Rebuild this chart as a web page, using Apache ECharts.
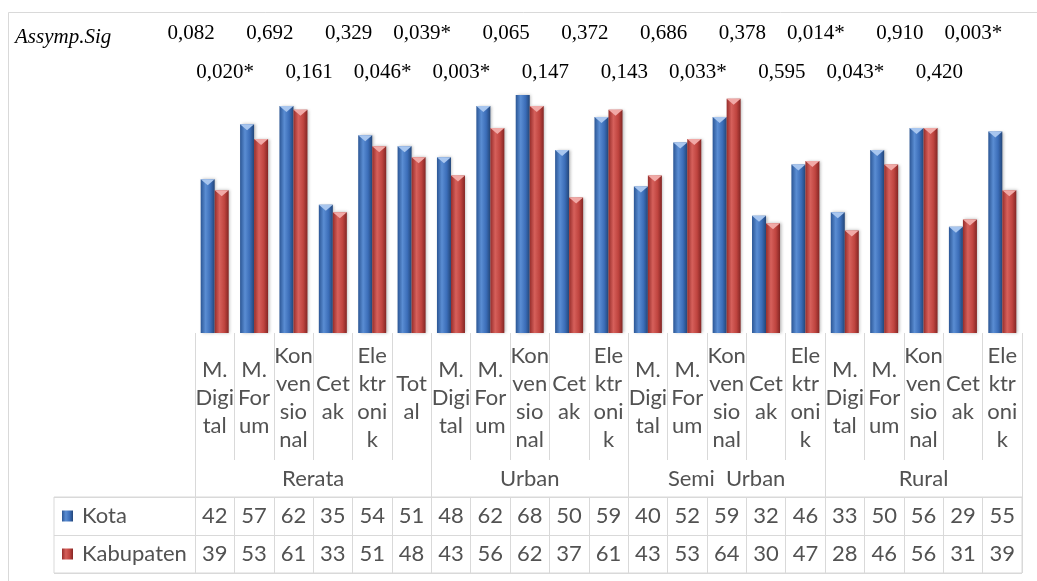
<!DOCTYPE html>
<html>
<head>
<meta charset="utf-8">
<script src="https://cdn.jsdelivr.net/npm/echarts@6/dist/echarts.min.js"></script>
<style>
  html, body { margin: 0; padding: 0; background: #ffffff; }
  #chart { width: 1037px; height: 581px; }
</style>
</head>
<body>
<div id="chart"></div>
<script>
// ---- data ----
const categories = [
  'M. Digital', 'M. Forum', 'Konvensional', 'Cetak', 'Elektronik', 'Total',
  'M. Digital', 'M. Forum', 'Konvensional', 'Cetak', 'Elektronik',
  'M. Digital', 'M. Forum', 'Konvensional', 'Cetak', 'Elektronik',
  'M. Digital', 'M. Forum', 'Konvensional', 'Cetak', 'Elektronik'
];
const groups = ['Rerata', 'Urban', 'Semi  Urban', 'Rural'];
const groupSizes = [6, 5, 5, 5];
const kota      = [42, 57, 62, 35, 54, 51, 48, 62, 68, 50, 59, 40, 52, 59, 32, 46, 33, 50, 56, 29, 55];
const kabupaten = [39, 53, 61, 33, 51, 48, 43, 56, 62, 37, 61, 43, 53, 64, 30, 47, 28, 46, 56, 31, 39];
const sig = [
  '0,082', '0,020*', '0,692', '0,161', '0,329', '0,046*', '0,039*', '0,003*',
  '0,065', '0,147', '0,372', '0,143', '0,686', '0,033*', '0,378', '0,595',
  '0,014*', '0,043*', '0,910', '0,420', '0,003*'
];
const seriesNames = ['Kota', 'Kabupaten'];
const sigTitle = 'Assymp.Sig';

// narrow-column wrapping of the category names
const wrapped = {
  'M. Digital': 'M.\nDigi\ntal',
  'M. Forum': 'M.\nFor\num',
  'Konvensional': 'Kon\nven\nsio\nnal',
  'Cetak': 'Cet\nak',
  'Elektronik': 'Ele\nktr\noni\nk',
  'Total': 'Tot\nal'
};

// ---- layout helpers ----
const W = 1037;
const PLOT_LEFT = 195, PLOT_RIGHT = 15, TABLE_LEFT = 54;
const BAR_W = 14;
const SANS = "Lato, 'Open Sans', sans-serif";
const SERIF = "'Liberation Serif', 'DejaVu Serif', serif";
const FS = 22;
const GRAY = '#525252';
const LINE = '#d9d9d9';

const nCat = categories.length;
const colW = (W - PLOT_LEFT - PLOT_RIGHT) / nCat;
const labelCols = (PLOT_LEFT - TABLE_LEFT) / colW;
const colBounds = Array.from({ length: nCat + 1 }, (_, i) => i);
const colCenters = Array.from({ length: nCat }, (_, i) => i + 0.5);
const groupBounds = [0];
groupSizes.forEach(s => groupBounds.push(groupBounds[groupBounds.length - 1] + s));
const groupCenters = groups.map((_, i) => (groupBounds[i] + groupBounds[i + 1]) / 2);

const blueFill = new echarts.graphic.LinearGradient(0, 0, 1, 0, [
  { offset: 0, color: '#2b5695' },
  { offset: 0.35, color: '#5a8dd3' },
  { offset: 0.7, color: '#3b6db8' },
  { offset: 1, color: '#234679' }
]);
const redFill = new echarts.graphic.LinearGradient(0, 0, 1, 0, [
  { offset: 0, color: '#962d2b' },
  { offset: 0.35, color: '#d6605b' },
  { offset: 0.7, color: '#bf443f' },
  { offset: 1, color: '#842624' }
]);

// bevel cap drawn on top of each bar
function capSeries(values, side, fill) {
  return {
    type: 'custom',
    xAxisIndex: 0,
    yAxisIndex: 0,
    clip: true,
    silent: true,
    z: 4,
    data: values.map((v, i) => [i, v]),
    renderItem: (params, api) => {
      const p = api.coord([api.value(0), api.value(1)]);
      const x0 = side < 0 ? p[0] - BAR_W : p[0];
      return {
        type: 'polygon',
        shape: { points: [[x0, p[1]], [x0 + BAR_W, p[1]], [x0 + BAR_W / 2, p[1] + 6]] },
        style: { fill: fill }
      };
    }
  };
}

function barSeries(name, values, fill) {
  return {
    name: name,
    type: 'bar',
    xAxisIndex: 0,
    yAxisIndex: 0,
    data: values,
    barWidth: BAR_W,
    barGap: '0%',
    itemStyle: {
      color: fill,
      shadowColor: 'rgba(0,0,0,0.28)',
      shadowBlur: 3,
      shadowOffsetX: 1.5,
      shadowOffsetY: 0
    },
    z: 3
  };
}

function sigAxis(parity, margin) {
  return {
    type: 'category',
    gridIndex: 0,
    position: 'top',
    data: categories,
    axisLine: { show: false, onZero: false },
    axisTick: { show: false },
    splitLine: { show: false },
    axisLabel: {
      interval: 0,
      margin: margin,
      align: 'right',
      verticalAlign: 'middle',
      fontFamily: SERIF,
      fontSize: 21,
      color: '#000000',
      formatter: (v, i) => (i % 2 === parity ? sig[i] : '')
    }
  };
}

function tableAxis(position, values) {
  return {
    type: 'value',
    gridIndex: 1,
    position: position,
    min: -labelCols,
    max: nCat,
    axisLine: { show: false, onZero: false },
    splitLine: { show: false },
    axisTick: {
      show: true,
      inside: true,
      length: 38,
      customValues: colBounds,
      lineStyle: { color: LINE }
    },
    axisLabel: {
      inside: true,
      margin: 19,
      verticalAlign: 'middle',
      customValues: colCenters,
      fontFamily: SANS,
      fontSize: FS,
      color: GRAY,
      formatter: v => String(values[Math.floor(v)])
    }
  };
}

const chart = echarts.init(document.getElementById('chart'));

chart.setOption({
  animation: false,
  backgroundColor: '#ffffff',
  textStyle: { fontFamily: SANS },
  title: {
    text: sigTitle,
    left: 15,
    top: 27,
    padding: 0,
    textStyle: { fontFamily: SERIF, fontStyle: 'italic', fontWeight: 'normal', fontSize: 21, color: '#000000' }
  },
  legend: {
    data: seriesNames,
    orient: 'vertical',
    left: 62,
    top: 505,
    padding: 0,
    itemWidth: 11,
    itemHeight: 11,
    itemGap: 16,
    icon: 'rect',
    selectedMode: false,
    textStyle: { fontFamily: SANS, fontSize: FS, color: GRAY, padding: [0, 0, 0, 4] }
  },
  graphic: [{
    type: 'rect',
    silent: true,
    z: -10,
    shape: { x: 8.5, y: 12.5, width: 1200, height: 800 },
    style: { fill: 'none', stroke: LINE, lineWidth: 1 }
  }],
  grid: [
    { left: PLOT_LEFT, right: PLOT_RIGHT, top: 95, bottom: 248, outerBoundsMode: 'none' },
    { left: TABLE_LEFT, right: PLOT_RIGHT, top: 497, bottom: 8, outerBoundsMode: 'none',
      show: true, borderColor: LINE, borderWidth: 1, backgroundColor: 'transparent' }
  ],
  xAxis: [
    {
      type: 'category',
      gridIndex: 0,
      position: 'bottom',
      data: categories,
      axisLine: { show: false, onZero: false },
      axisTick: { show: true, interval: 0, length: 127, lineStyle: { color: LINE } },
      splitLine: { show: false },
      axisLabel: {
        interval: 0,
        margin: 65,
        verticalAlign: 'middle',
        lineHeight: 28,
        fontFamily: SANS,
        fontSize: FS,
        color: GRAY,
        formatter: v => wrapped[v] || v
      }
    },
    {
      type: 'value',
      gridIndex: 0,
      position: 'bottom',
      offset: 127,
      min: 0,
      max: nCat,
      axisLine: { show: false, onZero: false },
      splitLine: { show: false },
      axisTick: { show: true, length: 37, customValues: groupBounds, lineStyle: { color: LINE } },
      axisLabel: {
        margin: 19,
        verticalAlign: 'middle',
        customValues: groupCenters,
        fontFamily: SANS,
        fontSize: FS,
        color: GRAY,
        formatter: v => groups[groupCenters.indexOf(v)]
      }
    },
    sigAxis(0, 62),
    sigAxis(1, 23),
    tableAxis('top', kota),
    tableAxis('bottom', kabupaten)
  ],
  yAxis: [
    { type: 'value', gridIndex: 0, min: 0, max: 65, show: false },
    {
      type: 'value', gridIndex: 1, min: 0, max: 2, interval: 1,
      axisLine: { show: false }, axisTick: { show: false }, axisLabel: { show: false },
      splitLine: { show: true, lineStyle: { color: LINE } }
    }
  ],
  series: [
    barSeries(seriesNames[0], kota, blueFill),
    barSeries(seriesNames[1], kabupaten, redFill),
    capSeries(kota, -1, '#a8c6ef'),
    capSeries(kabupaten, 1, '#f1a9a6')
  ]
});
</script>
</body>
</html>
